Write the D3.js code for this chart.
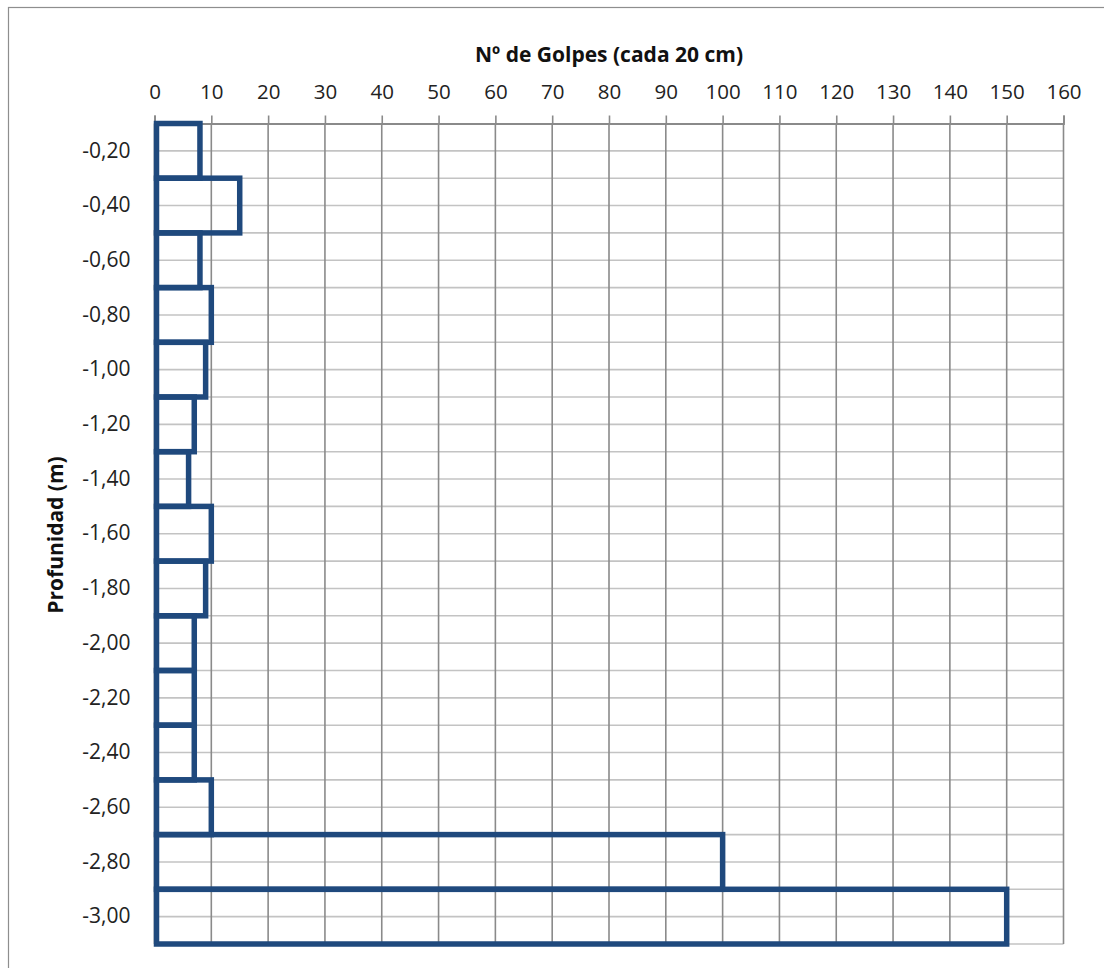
<!DOCTYPE html>
<html><head><meta charset="utf-8">
<script src="https://cdn.jsdelivr.net/npm/d3@7"></script>
<style>body{margin:0;background:#fff}svg{display:block}</style>
</head><body>
<script>
const depths = ["-0,20","-0,40","-0,60","-0,80","-1,00","-1,20","-1,40","-1,60","-1,80","-2,00","-2,20","-2,40","-2,60","-2,80","-3,00"];
const golpes = [8,15,8,10,9,7,6,10,9,7,7,7,10,100,150];
const xTicks = [0,10,20,30,40,50,60,70,80,90,100,110,120,130,140,150,160];
const xTitle = "Nº de Golpes (cada 20 cm)";
const yTitle = "Profunidad (m)";

(function(){
const W = 1104, H = 968;
const pLeft = 154.5, pRight = 1063.5, pTop = 123.5, pBottom = 944;
const font = "'Open Sans', sans-serif";

const svg = d3.select("body").append("svg").attr("width", W).attr("height", H);
svg.append("rect").attr("x",8.5).attr("y",7.5).attr("width",1110).attr("height",980)
  .attr("fill","#fff").attr("stroke","#8e8e8e").attr("stroke-width",1.2);

const x = d3.scaleLinear().domain([0,160]).range([pLeft,pRight]);
const y = d3.scaleBand().domain(depths).range([pTop,pBottom]).padding(0);

const hLines = [];
depths.forEach(d => { hLines.push(y(d)); hLines.push(y(d) + y.bandwidth()/2); });
hLines.push(y.range()[1]);
svg.append("g").selectAll("line").data(hLines.slice(1)).join("line")
  .attr("x1",pLeft).attr("x2",pRight).attr("y1",d=>d).attr("y2",d=>d)
  .attr("stroke","#c3c3c3").attr("stroke-width",1.6);

svg.append("g").selectAll("line").data(xTicks).join("line")
  .attr("x1",d=>x(d)).attr("x2",d=>x(d)).attr("y1",pTop).attr("y2",pBottom)
  .attr("stroke","#8a8a8a").attr("stroke-width",1.6);

const xAxis = d3.axisTop(x).tickValues(xTicks).tickSize(8).tickPadding(17).tickFormat(d3.format("d"));
const gx = svg.append("g").attr("transform",`translate(0,${pTop})`).call(xAxis);
gx.select(".domain").attr("stroke","#8a8a8a").attr("stroke-width",1.8);
gx.selectAll(".tick line").attr("stroke","#8a8a8a").attr("stroke-width",1.6);
gx.selectAll("text").attr("font-family",font).attr("font-size",20.5).attr("fill","#222");

const yAxis = d3.axisLeft(y).tickSize(0).tickPadding(24);
const gy = svg.append("g").attr("transform",`translate(${pLeft},0)`).call(yAxis);
gy.select(".domain").attr("stroke","#8a8a8a").attr("stroke-width",2);
gy.selectAll("text").attr("font-family",font).attr("font-size",21).attr("fill","#222");

svg.append("g").selectAll("rect").data(golpes).join("rect")
  .attr("x",x(0)+2).attr("y",(d,i)=>y(depths[i]))
  .attr("width",d=>x(d)-x(0)-2).attr("height",y.bandwidth())
  .attr("fill","none").attr("stroke","#1f497d").attr("stroke-width",5.5);

svg.append("text").attr("x",(pLeft+pRight)/2).attr("y",62).attr("text-anchor","middle")
  .attr("font-family",font).attr("font-weight","bold").attr("font-size",21).attr("fill","#111").text(xTitle);
svg.append("text").attr("transform",`translate(63,535) rotate(-90)`).attr("text-anchor","middle")
  .attr("font-family",font).attr("font-weight","bold").attr("font-size",21).attr("fill","#111").text(yTitle);
})();
</script>
</body></html>
